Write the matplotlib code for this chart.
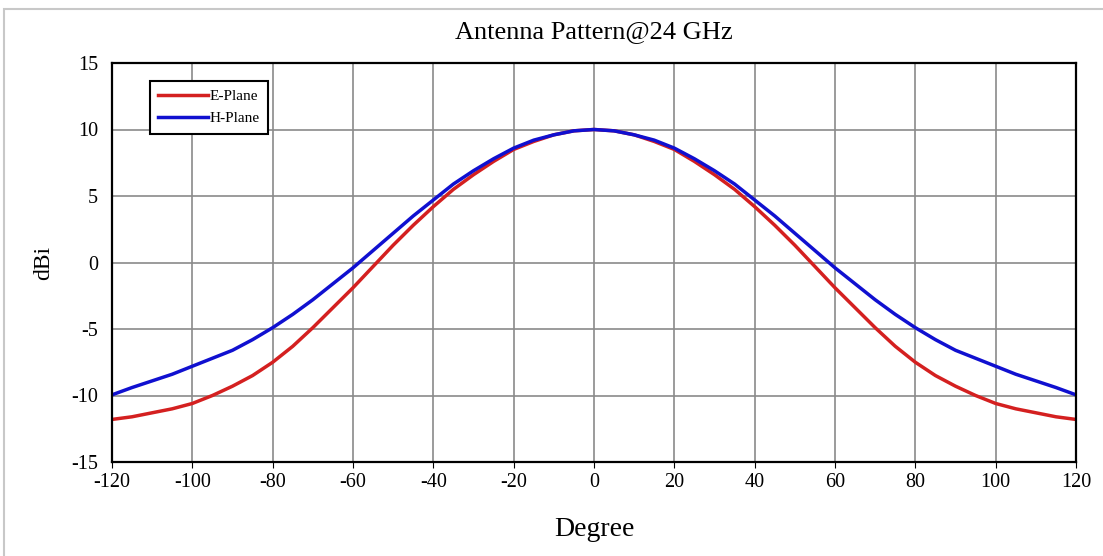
import numpy as np
import matplotlib.pyplot as plt
from matplotlib.patches import Rectangle

plt.rcParams["font.family"] = ["Liberation Serif", "DejaVu Serif"]
plt.rcParams["axes.unicode_minus"] = False

# right half, mirrored to the left
deg_half = [0, 5, 10, 15, 20, 25, 30, 35, 40, 45, 50, 55, 60, 65, 70, 75, 80, 85, 90, 95, 100, 105, 110, 115, 120]
e_half = [10.0, 9.9, 9.6, 9.1, 8.5, 7.6, 6.6, 5.5, 4.2, 2.8, 1.3, -0.3, -1.9, -3.4, -4.9, -6.3, -7.5, -8.5, -9.3, -10.0, -10.6, -11.0, -11.3, -11.6, -11.8]
h_half = [10.0, 9.9, 9.6, 9.2, 8.6, 7.8, 6.9, 5.9, 4.7, 3.5, 2.2, 0.9, -0.4, -1.6, -2.8, -3.9, -4.9, -5.8, -6.6, -7.2, -7.8, -8.4, -8.9, -9.4, -9.95]

deg = [-d for d in deg_half[:0:-1]] + deg_half
e_plane = e_half[:0:-1] + e_half
h_plane = h_half[:0:-1] + h_half

fig = plt.figure(figsize=(11.03, 5.56), dpi=100)
fig.patches.append(Rectangle((4/1103, -0.1), 1.2, 1 - 9/556 + 0.1, transform=fig.transFigure,
                             fill=False, edgecolor='#c8c8c8', linewidth=1.5))
ax = fig.add_axes([112/1103, 1-462/556, 964/1103, 399/556])

ax.plot(deg, e_plane, color='#d42020', linewidth=2.5, label='E-Plane')
ax.plot(deg, h_plane, color='#1010d0', linewidth=2.5, label='H-Plane')

ax.set_xlim(-120, 120)
ax.set_ylim(-15, 15)
ax.set_xticks(np.arange(-120, 121, 20))
ax.set_yticks(np.arange(-15, 16, 5))
ax.grid(True, color='#8a8a8a', linewidth=1.2)
ax.set_axisbelow(True)
for s in ax.spines.values():
    s.set_linewidth(1.6)
ax.tick_params(axis='x', direction='out', length=4, labelsize=14.5, pad=4)
ax.tick_params(axis='y', length=0, labelsize=14.5, pad=10)

ax.set_title('Antenna Pattern@24 GHz', fontsize=19, pad=18)
ax.set_xlabel('Degree', fontsize=20, labelpad=18)
ax.set_ylabel('dBi', fontsize=17, labelpad=12)

leg = ax.legend(loc='upper left', bbox_to_anchor=(0.039, 0.955), fontsize=11,
                handlelength=3.3, handletextpad=0.05, borderpad=0.55,
                labelspacing=0.55, fancybox=False, framealpha=1, borderaxespad=0)
leg.get_frame().set_edgecolor('black')
leg.get_frame().set_linewidth(1.5)

plt.savefig('out.png', dpi=100)
